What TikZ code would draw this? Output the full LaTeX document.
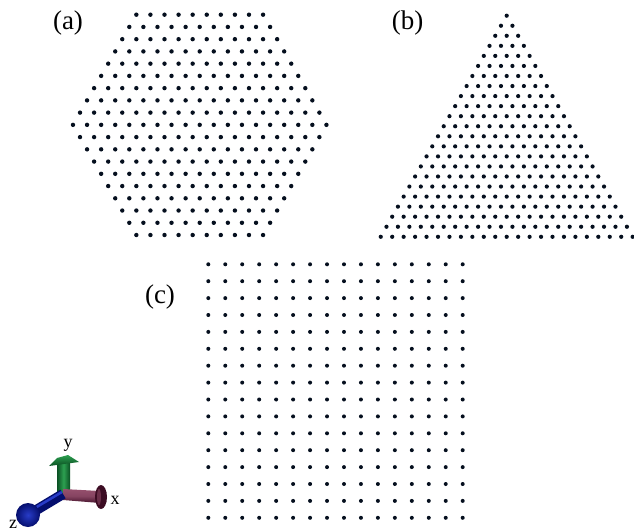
\documentclass[tikz,border=0pt]{standalone}
\usepackage{fontspec}
\setmainfont{Liberation Serif}
\definecolor{dotc}{RGB}{5,15,30}
\definecolor{gdark}{RGB}{10,80,35}
\definecolor{glight}{RGB}{45,160,80}
\definecolor{mdark}{RGB}{70,20,45}
\definecolor{mlight}{RGB}{150,80,110}
\definecolor{mdisc}{RGB}{60,12,35}
\definecolor{bdark}{RGB}{5,15,110}
\definecolor{blight}{RGB}{40,60,200}
\begin{document}
\begin{tikzpicture}[x=1pt,y=-1pt,
  dot/.style={fill=dotc},
  lab/.style={font=\fontsize{27}{30}\selectfont, inner sep=0pt},
  axlab/.style={font=\fontsize{18}{20}\selectfont, inner sep=0pt}]
\useasboundingbox (0,0) rectangle (634,532);
% (a) hexagonal patch
\foreach \i in {0,...,18}{
  \pgfmathtruncatemacro{\n}{10+min(\i,18-\i)}
  \pgfmathsetmacro{\xs}{199.7-(\n-1)*7.04}
  \pgfmathsetmacro{\yy}{14.7+\i*12.24}
  \foreach \j in {1,...,\n}{
    \fill[dot] ({\xs+(\j-1)*14.08},\yy) circle (2.2pt);
  }
}
% (b) triangular patch
\foreach \i in {0,...,22}{
  \pgfmathsetmacro{\xs}{506.7-\i*5.725}
  \pgfmathsetmacro{\yy}{15.7+\i*10.05}
  \foreach \j in {0,...,\i}{
    \fill[dot] ({\xs+\j*11.45},\yy) circle (2.1pt);
  }
}
% (c) square patch
\foreach \i in {0,...,15}{
  \foreach \j in {0,...,15}{
    \fill[dot] ({208.3+\j*16.96},{264.3+\i*16.9}) circle (2.0pt);
  }
}
% labels
\node[lab] (la) at (68,23) {(a)};
\node[lab] (lb) at (407.5,23.5) {(b)};
\node[lab] (lc) at (160,297.5) {(c)};
% axes glyph
\coordinate (o) at (63,494);
% y arrow
\shade[left color=gdark, right color=gdark, middle color=glight] (57,494) rectangle (70,463);
\shade[top color=glight, bottom color=gdark] (49,466) -- (57,458) -- (68,455) -- (79,462) -- cycle;
% x rod
\shade[top color=mlight, bottom color=mdark, middle color=mlight!80!mdark] (63,489) -- (100,491) -- (100,503) -- (63,500) -- cycle;
\fill[mdisc] (101,497) ellipse (6pt and 12pt);
\fill[mlight!50!mdisc] (99,497) ellipse (2pt and 8pt);
% z rod
\fill[bdark] (60.4,489.7) -- (25.4,510.7) -- (30.6,519.3) -- (65.6,498.3) -- cycle;
\draw[blight, line width=2.5pt] (62,492) -- (30,511);
\shade[inner color=blight, outer color=bdark] (28,515) circle (12pt);
% axis labels
\node[axlab] (ly) at (68,445) {y};
\node[axlab] (lx) at (115,500) {x};
\node[axlab] (lz) at (13,524) {z};
\end{tikzpicture}
\end{document}
